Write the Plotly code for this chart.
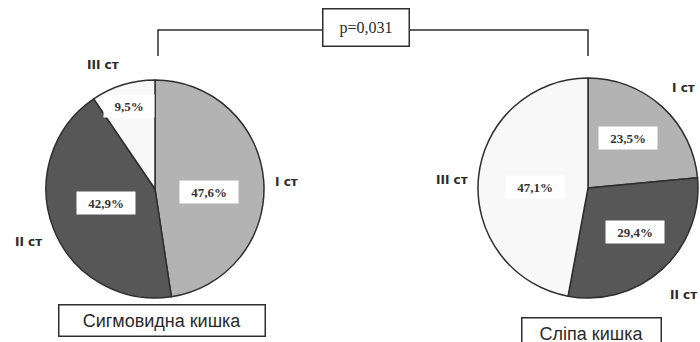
import plotly.graph_objects as go

W, H = 700, 342

# Data
stages = ["I ст", "II ст", "III ст"]
sigmoid_pct = [47.6, 42.9, 9.5]
cecum_pct = [23.5, 29.4, 47.1]
titles = ["Сигмовидна кишка", "Сліпа кишка"]
p_value = "p=0,031"

colors = ["#b3b3b3", "#575757", "#f8f8f8"]
edge = "#2e2e2e"


def px(x):
    return x / W


def py(y):
    return 1 - y / H


def fmt(v):
    return f"{v:.1f}".replace(".", ",") + "%"


def note(x, y, text, **kw):
    return dict(x=px(x), y=py(y), xref="paper", yref="paper", showarrow=False,
                xanchor="center", yanchor="middle", text=text, **kw)


# pie geometry in pixels: centre, radius, label spots (per stage), title box
pies = [
    dict(vals=sigmoid_pct, cx=155, cy=189, r=109,
         pct_xy=[(209, 192), (106, 203), (129, 106)],
         stage_xy=[(286, 182), (28, 242), (103, 65)],
         title_xy=(162, 320), title_wh=(199, 24)),
    dict(vals=cecum_pct, cx=588, cy=188, r=110,
         pct_xy=[(628, 138), (635, 232), (535, 187)],
         stage_xy=[(683, 88), (683, 295), (452, 180)],
         title_xy=(591, 333), title_wh=(132, 24)),
]

fig = go.Figure()
annotations = []

for p in pies:
    cx, cy, r = p["cx"], p["cy"], p["r"]
    fig.add_trace(go.Pie(
        values=p["vals"], labels=stages, sort=False, direction="clockwise",
        rotation=0, textinfo="none", hoverinfo="skip", showlegend=False,
        marker=dict(colors=colors, line=dict(color=edge, width=1.5)),
        domain=dict(x=[px(cx - r), px(cx + r)], y=[py(cy + r), py(cy - r)]),
    ))
    for v, (x, y) in zip(p["vals"], p["pct_xy"]):
        label = fmt(v)
        annotations.append(note(
            x, y, f"<b>{label}</b>", width=8 * len(label) + 12, height=16, borderpad=3,
            font=dict(family="Liberation Serif", size=13, color="#333333"),
            bgcolor="white",
        ))
    for s, (x, y) in zip(stages, p["stage_xy"]):
        annotations.append(note(
            x, y, f"<b>{s}</b>",
            font=dict(family="DejaVu Sans", size=12, color="#2a2a2a"),
        ))

for p, t in zip(pies, titles):
    tx, ty = p["title_xy"]
    tw, th = p["title_wh"]
    annotations.append(note(
        tx, ty, t, width=tw, height=th, borderpad=3,
        font=dict(family="Liberation Sans", size=18, color="#2a2a2a"),
        bgcolor="white", bordercolor=edge, borderwidth=1.5,
    ))

# significance bracket between the two pies
bx0, bx1, btop, bbot = 158, 588, 30, 56
box_l, box_r = 322, 409
line = dict(color=edge, width=1.5)
shapes = [
    dict(type="path", xref="paper", yref="paper", line=line,
         path=f"M {px(bx0)},{py(bbot)} L {px(bx0)},{py(btop)} L {px(box_l)},{py(btop)}"),
    dict(type="path", xref="paper", yref="paper", line=line,
         path=f"M {px(box_r)},{py(btop)} L {px(bx1)},{py(btop)} L {px(bx1)},{py(bbot)}"),
]
annotations.append(note(
    (box_l + box_r) / 2, 27, p_value, width=box_r - box_l - 8, height=30, borderpad=3,
    font=dict(family="Liberation Serif", size=16, color="#2a2a2a"),
    bgcolor="white", bordercolor=edge, borderwidth=1.5,
))

fig.update_layout(
    width=W, height=H, margin=dict(l=0, r=0, t=0, b=0),
    paper_bgcolor="white", plot_bgcolor="white",
    shapes=shapes, annotations=annotations,
)

fig.write_html("out.html")
